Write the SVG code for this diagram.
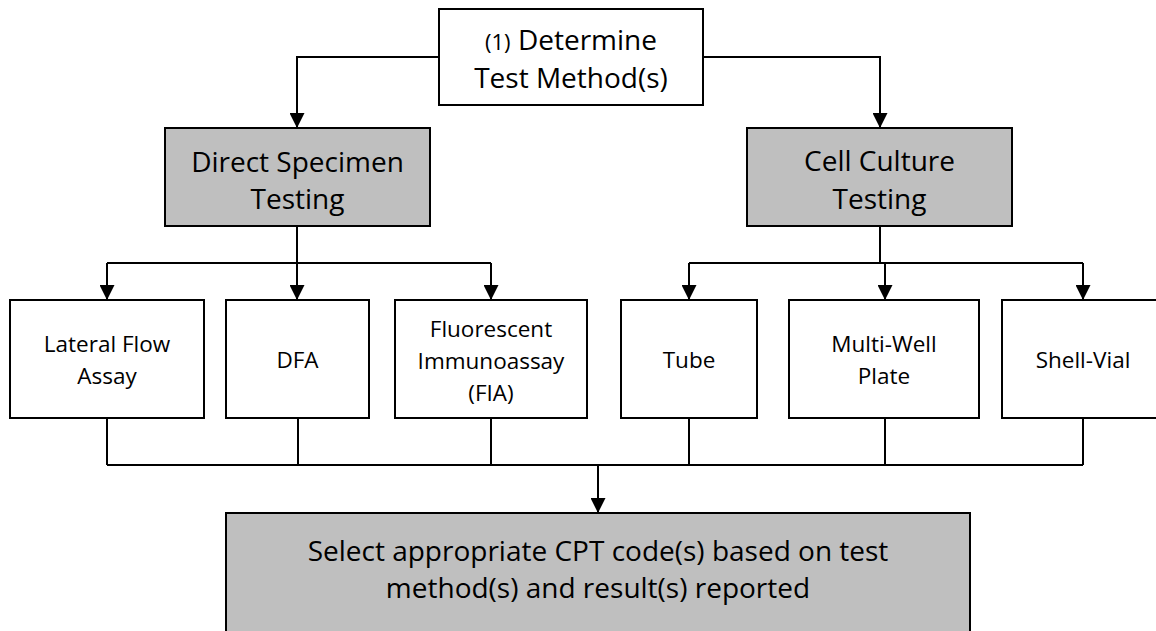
<svg xmlns="http://www.w3.org/2000/svg" width="1156" height="631" viewBox="0 0 1156 631">
  <style>
    .box { fill: #ffffff; stroke: #000000; stroke-width: 2; }
    .shaded { fill: #bfbfbf; stroke: #000000; stroke-width: 2; }
    .lbl { font-family: "Open Sans", "Noto Sans", sans-serif; font-size: 28px; fill: #000000; text-anchor: middle; }
    .sm { font-family: "Open Sans", "Noto Sans", sans-serif; font-size: 22.5px; fill: #000000; text-anchor: middle; }
    .wire { fill: none; stroke: #000000; stroke-width: 2; }
  </style>
  <defs>
    <marker id="arrow" markerUnits="userSpaceOnUse" markerWidth="15" markerHeight="15" refX="15" refY="7.5" orient="auto">
      <path d="M0,0 L15,7.5 L0,15 Z" fill="#000000"/>
    </marker>
  </defs>

  <rect width="1156" height="631" fill="#ffffff"/>

  <!-- connectors -->
  <g id="connectors">
    <path class="wire" d="M439,57 H297 V128" marker-end="url(#arrow)"/>
    <path class="wire" d="M703,57 H880 V128" marker-end="url(#arrow)"/>

    <path class="wire" d="M297,226 V263"/>
    <path class="wire" d="M107,263 H491"/>
    <path class="wire" d="M107,263 V300" marker-end="url(#arrow)"/>
    <path class="wire" d="M297,263 V300" marker-end="url(#arrow)"/>
    <path class="wire" d="M491,263 V300" marker-end="url(#arrow)"/>

    <path class="wire" d="M880,226 V263"/>
    <path class="wire" d="M689,263 H1083"/>
    <path class="wire" d="M689,263 V300" marker-end="url(#arrow)"/>
    <path class="wire" d="M885,263 V300" marker-end="url(#arrow)"/>
    <path class="wire" d="M1083,263 V300" marker-end="url(#arrow)"/>

    <path class="wire" d="M107,418 V465 M298,418 V465 M491,418 V465 M689,418 V465 M885,418 V465 M1083,418 V465"/>
    <path class="wire" d="M107,465 H1083"/>
    <path class="wire" d="M598,465 V513" marker-end="url(#arrow)"/>
  </g>

  <!-- top step -->
  <g id="determine">
    <rect class="box" x="439" y="9" width="264" height="96"/>
    <text class="lbl" x="571" y="50"><tspan font-size="22">(1)</tspan> Determine</text>
    <text class="lbl" x="571" y="88">Test Method(s)</text>
  </g>

  <!-- testing categories -->
  <g id="direct-specimen">
    <rect class="shaded" x="165" y="128" width="265" height="98"/>
    <text class="lbl" x="297.5" y="172">Direct Specimen</text>
    <text class="lbl" x="297.5" y="209">Testing</text>
  </g>
  <g id="cell-culture">
    <rect class="shaded" x="747" y="128" width="265" height="98"/>
    <text class="lbl" x="879.5" y="171">Cell Culture</text>
    <text class="lbl" x="879.5" y="209">Testing</text>
  </g>

  <!-- methods -->
  <g id="lateral-flow">
    <rect class="box" x="10" y="300" width="194" height="118"/>
    <text class="sm" x="107" y="352">Lateral Flow</text>
    <text class="sm" x="107" y="384">Assay</text>
  </g>
  <g id="dfa">
    <rect class="box" x="226" y="300" width="143" height="118"/>
    <text class="sm" x="297.5" y="368">DFA</text>
  </g>
  <g id="fia">
    <rect class="box" x="395" y="300" width="192" height="118"/>
    <text class="sm" x="491" y="337">Fluorescent</text>
    <text class="sm" x="491" y="369">Immunoassay</text>
    <text class="sm" x="491" y="401">(FIA)</text>
  </g>
  <g id="tube">
    <rect class="box" x="621" y="300" width="136" height="118"/>
    <text class="sm" x="689" y="368">Tube</text>
  </g>
  <g id="multi-well">
    <rect class="box" x="789" y="300" width="190" height="118"/>
    <text class="sm" x="884" y="352">Multi-Well</text>
    <text class="sm" x="884" y="384">Plate</text>
  </g>
  <g id="shell-vial">
    <rect class="box" x="1002" y="300" width="160" height="118"/>
    <text class="sm" x="1083" y="368">Shell-Vial</text>
  </g>

  <!-- final step -->
  <g id="select-cpt">
    <rect class="shaded" x="226" y="513" width="744" height="124"/>
    <text class="lbl" x="598" y="561">Select appropriate CPT code(s) based on test</text>
    <text class="lbl" x="598" y="598">method(s) and result(s) reported</text>
  </g>
</svg>
